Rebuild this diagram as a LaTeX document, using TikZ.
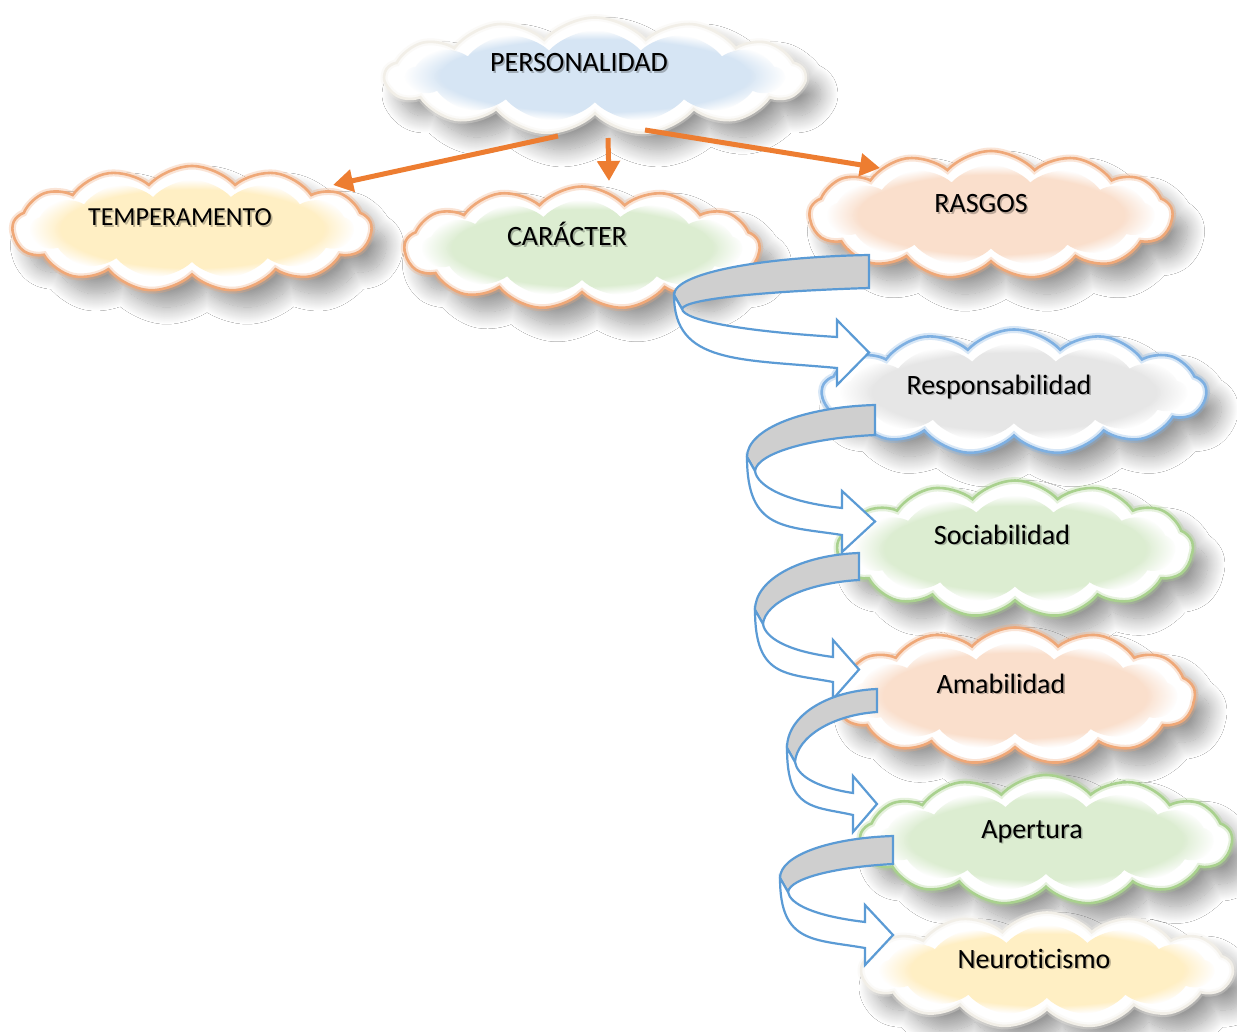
\documentclass[tikz,border=0pt]{standalone}
\usepackage{fontspec}
\setmainfont{Carlito}[Ligatures=NoCommon]
\usetikzlibrary{shapes.symbols,shadows.blur,arrows.meta,fadings}

\definecolor{arroworange}{HTML}{ED7D31}
\definecolor{edgeorange}{HTML}{EFA878}
\definecolor{edgeblue}{HTML}{7EB0E2}
\definecolor{edgegreen}{HTML}{A9D18E}
\definecolor{edgelight}{HTML}{F2EFE8}
\definecolor{fillblue}{HTML}{D6E5F4}
\definecolor{fillyellow}{HTML}{FFEFC4}
\definecolor{fillgreen}{HTML}{DCEDD1}
\definecolor{fillpeach}{HTML}{FADFCC}
\definecolor{fillgrey}{HTML}{E6E6E6}
\definecolor{ribbonblue}{HTML}{5B9BD5}
\definecolor{ribbongrey}{HTML}{CFCFCF}

\tikzset{
  puffy/.style={cloud, cloud puffs=13, cloud puff arc=95, cloud ignores aspect, inner sep=0pt},
  cloudbase/.style={puffy, fill=white, line width=2.6pt,
    blur shadow={shadow xshift=15pt, shadow yshift=-17pt, shadow blur radius=17pt,
      shadow blur steps=26, shadow opacity=40}},
  cloudglow/.style={puffy, line width=7pt, draw opacity=0.3},
  cloudfill/.style={puffy, draw=none},
  lbl/.style={font=\fontsize{28}{32}\selectfont, inner sep=0pt, anchor=base, text=black},
  lblshade/.style={lbl, text=black, opacity=0.25},
  ribbonline/.style={draw=ribbonblue, line width=2.2pt, line join=miter},
  orangearrow/.style={draw=arroworange, line width=5pt,
    -{Triangle[width=22pt,length=20pt]}},
}

% cloud with a soft edge glow and a soft coloured core:
% name, centre, width, height, edge colour, core colour
\newcommand\softcloud[6]{%
  \node[cloudbase, draw=#5, minimum width=#3, minimum height=#4] (#1) at (#2) {};
  \node[cloudglow, draw=#5, minimum width=#3, minimum height=#4] (#1-g) at (#2) {};
  \node[cloudfill, fill=#6, path fading=circle with fuzzy edge 20 percent,
        minimum width={0.9*#3}, minimum height={0.78*#4}] (#1-a) at (#2) {};
  \node[cloudfill, fill=#6, opacity=0.6, path fading=circle with fuzzy edge 20 percent,
        minimum width={0.76*#3}, minimum height={0.6*#4}] (#1-b) at (#2) {};
}

% label with a faint drop shadow: name, baseline point, text
\newcommand\cloudlabel[4][]{%
  \node[lblshade, #1] (#2-s) at ([shift={(1.6,1.8)}]#3) {#4};
  \node[lbl, #1] (#2) at (#3) {#4};
}

% curled ribbon arrow: right x, top y, band bottom y, left x, left y,
% head base x, upper edge y at head, lower edge y at head
\newcommand\ribbon[8]{%
  \filldraw[ribbonline, fill=ribbongrey]
    (#1,#2) -- (#1,#3)
    .. controls ({#1-0.5*(#1-#4)},{#3+3}) and ({#4+10},{#5+14-0.5*(#5+14-#3)}) ..
    ({#4+8},{#5+14}) -- (#4,#5)
    .. controls (#4,{#5-0.55*(#5-#2)}) and ({#1-0.55*(#1-#4)},{#2+2}) .. (#1,#2) -- cycle;
  \filldraw[ribbonline, fill=white]
    (#4,#5)
    .. controls (#4,{#8-4}) and ({#4+0.4*(#6-#4)},{#8-9}) .. (#6,#8)
    -- (#6,{#8+17}) -- (#1,{(#7+#8)/2}) -- (#6,{#7-17}) -- (#6,#7)
    .. controls ({#4+0.4*(#6-#4)},{#7-6}) and ({#4+10},{#5+14+0.4*(#7-#5-14)}) ..
    ({#4+8},{#5+14}) -- cycle;
}

\begin{document}
\begin{tikzpicture}[x=1pt,y=-1pt]
  \useasboundingbox (0,0) rectangle (1237,1032);
  \fill[white] (0,0) rectangle (1237,1032);

  % clouds
  \softcloud{per}{595,76}{420pt}{117pt}{edgelight}{fillblue}
  \softcloud{tem}{192,229}{359pt}{126pt}{edgeorange}{fillyellow}
  \softcloud{car}{582,248}{355pt}{123pt}{edgeorange}{fillgreen}
  \softcloud{ras}{991,215}{363pt}{128pt}{edgeorange}{fillpeach}
  \softcloud{res}{1014,392}{384pt}{125pt}{edgeblue}{fillgrey}
  \softcloud{soc}{1015,549}{356pt}{137pt}{edgegreen}{fillgreen}
  \softcloud{ama}{1015,696}{360pt}{137pt}{edgeorange}{fillpeach}
  \softcloud{ape}{1046,840}{372pt}{130pt}{edgegreen}{fillgreen}
  \softcloud{neu}{1047,970}{371pt}{115pt}{edgelight}{fillyellow}

  % labels
  \cloudlabel{per-t}{579,72}{PERSONALIDAD}
  \cloudlabel[font=\fontsize{26}{30}\selectfont]{tem-t}{180,226}{TEMPERAMENTO}
  \cloudlabel{car-t}{567,246}{CARÁCTER}
  \cloudlabel{ras-t}{981,213}{RASGOS}
  \cloudlabel{res-t}{999,394}{Responsabilidad}
  \cloudlabel{soc-t}{1002,544}{Sociabilidad}
  \cloudlabel{ama-t}{1001,693}{Amabilidad}
  \cloudlabel{ape-t}{1032,838}{Apertura}
  \cloudlabel{neu-t}{1034,968}{Neuroticismo}

  % connectors from the top cloud
  \coordinate (per-o1) at ([shift={(-37,60)}]per.center);
  \coordinate (per-o2) at ([shift={(13,62)}]per.center);
  \coordinate (per-o3) at ([shift={(50,54)}]per.center);
  \coordinate (tem-i) at ([shift={(141,-44)}]tem.center);
  \coordinate (car-i) at ([shift={(27,-67)}]car.center);
  \coordinate (ras-i) at ([shift={(-111,-47)}]ras.center);
  \draw[orangearrow] (per-o1) -- (tem-i);
  \draw[orangearrow] (per-o2) -- (car-i);
  \draw[orangearrow] (per-o3) -- (ras-i);

  % curled arrows down the chain of traits
  \ribbon{869}{255}{288}{674}{295}{837}{337}{368}
  \ribbon{875}{405}{435}{747}{457}{842}{508}{535}
  \ribbon{859}{553}{580}{755}{610}{833}{657}{682}
  \ribbon{877}{689}{712}{787}{748}{853}{793}{815}
  \ribbon{893}{836}{864}{780}{878}{865}{922}{948}
\end{tikzpicture}
\end{document}
